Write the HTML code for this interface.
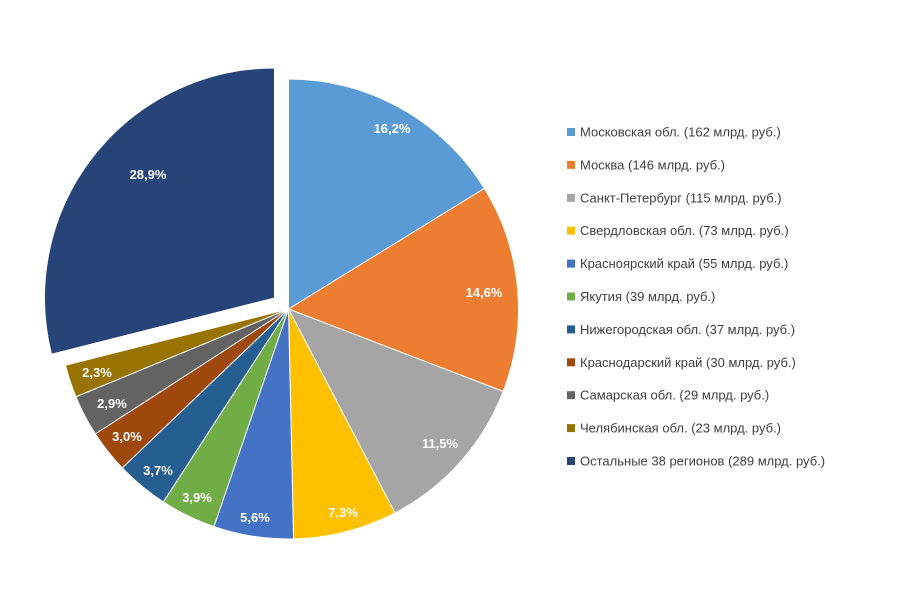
<!DOCTYPE html>
<html><head><meta charset="utf-8"><style>
body{margin:0;background:#fff;width:899px;height:600px;overflow:hidden;font-family:"Liberation Sans","DejaVu Sans",sans-serif}
</style></head><body>
<svg id="s" width="899" height="600" xmlns="http://www.w3.org/2000/svg">
<g id="pie"></g>
<g id="lbl" font-size="13" font-weight="bold" fill="#fff" text-anchor="middle">
<text x="392" y="133">16,2%</text>
<text x="484" y="297">14,6%</text>
<text x="440" y="448">11,5%</text>
<text x="343" y="517">7,3%</text>
<text x="255" y="522">5,6%</text>
<text x="197" y="502">3,9%</text>
<text x="158" y="475">3,7%</text>
<text x="127" y="441">3,0%</text>
<text x="112" y="408">2,9%</text>
<text x="97" y="377">2,3%</text>
<text x="148" y="179">28,9%</text>
</g>
<g id="leg" font-size="13" fill="#404040"></g>
</svg>
<script>
var d=[16.2,14.6,11.5,7.3,5.6,3.9,3.7,3.0,2.9,2.3,28.9];
var col=["#5B9BD5","#ED7D31","#A5A5A5","#FFC000","#4472C4","#70AD47","#255E91","#9E480E","#636363","#997300","#264478"];
var names=["Московская обл. (162 млрд. руб.)","Москва (146 млрд. руб.)","Санкт-Петербург (115 млрд. руб.)","Свердловская обл. (73 млрд. руб.)","Красноярский край (55 млрд. руб.)","Якутия (39 млрд. руб.)","Нижегородская обл. (37 млрд. руб.)","Краснодарский край (30 млрд. руб.)","Самарская обл. (29 млрд. руб.)","Челябинская обл. (23 млрд. руб.)","Остальные 38 регионов (289 млрд. руб.)"];
var cx=288.5,cy=309,R=230,tot=99.9,a=0;
var h="";
for(var i=0;i<d.length;i++){
 var a0=a,a1=a+d[i]/tot*2*Math.PI;a=a1;
 var x0=cx+R*Math.sin(a0),y0=cy-R*Math.cos(a0),x1=cx+R*Math.sin(a1),y1=cy-R*Math.cos(a1);
 var p="M"+cx+","+cy+"L"+x0+","+y0+"A"+R+","+R+" 0 "+((a1-a0)>Math.PI?1:0)+" 1 "+x1+","+y1+"Z";
 var path='<path d="'+p+'" fill="'+col[i]+'" stroke="#fff" stroke-width="1" stroke-linejoin="round"/>';
 if(i==10) h+='<g transform="translate(-14,-11)">'+path+'</g>';
 else h+=path;
}
document.getElementById("pie").innerHTML=h;
var L="";
for(var i=0;i<11;i++){var y=132+i*32.9;
 L+='<rect x="567" y="'+(y-4)+'" width="8" height="8" fill="'+col[i]+'"/><text x="580" y="'+(y+4.5)+'">'+names[i]+'</text>';}
document.getElementById("leg").innerHTML=L;
</script>
</body></html>
